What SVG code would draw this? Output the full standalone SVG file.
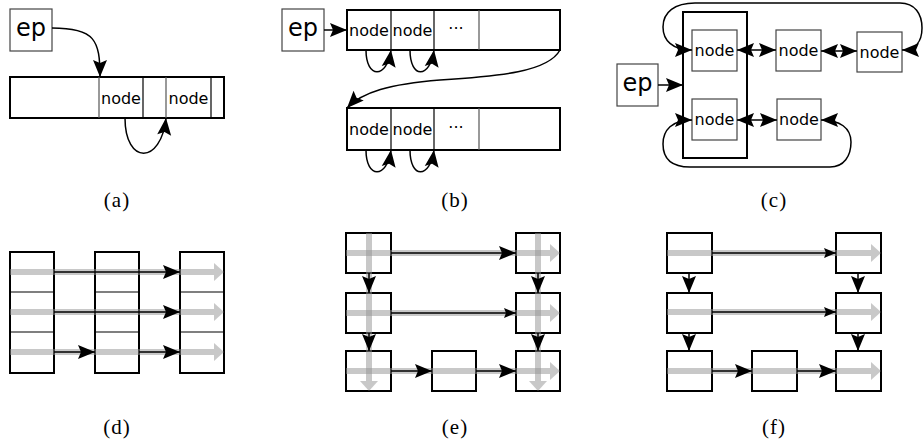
<svg xmlns="http://www.w3.org/2000/svg" width="923" height="442" viewBox="0 0 923 442">
<style>
.bg{fill:#fff}
.arr{fill:#fff;stroke:#000;stroke-width:2}
.nd{fill:#fff;stroke:#444;stroke-width:1.2}
.box{fill:#fff;stroke:#000;stroke-width:2}
.div{stroke:#000;stroke-width:1.2}
.divg{stroke:#555;stroke-width:1.2}
.ln{fill:none;stroke:#000;stroke-width:1.5}
.big{marker-end:url(#ah)}
.sm{marker-end:url(#as)}
.gr{fill:none;stroke:#919191;stroke-opacity:0.5;stroke-width:6;marker-end:url(#ag)}
.t{font-family:"DejaVu Sans",sans-serif;font-size:16px;text-anchor:middle;fill:#000}
.ep{font-family:"DejaVu Sans",sans-serif;font-size:24px;text-anchor:middle;fill:#000}
.cap{font-family:"Liberation Serif",serif;font-size:21px;letter-spacing:1px;text-anchor:middle;fill:#000}
</style>
<defs>
<marker id="ah" markerUnits="userSpaceOnUse" markerWidth="18" markerHeight="14" refX="17" refY="7" orient="auto-start-reverse" overflow="visible">
<path d="M0,0 L17,7 L0,14 L3,7 z" fill="#000"/>
</marker>
<marker id="as" markerUnits="userSpaceOnUse" markerWidth="12" markerHeight="10" refX="12" refY="5" orient="auto" overflow="visible">
<path d="M0,0 L12,5 L0,10 L2,5 z" fill="#000"/>
</marker>
<marker id="ag" markerUnits="userSpaceOnUse" markerWidth="11" markerHeight="18" refX="0" refY="9" orient="auto" overflow="visible">
<path d="M0,0 L10,9 L0,18 z" fill="#919191" fill-opacity="0.5"/>
</marker>
</defs>
<rect class="bg" x="0" y="0" width="923" height="442"/>

<!-- (a) -->
<g id="a-ep"><rect class="nd" x="10" y="9" width="42" height="42"/><text class="ep" x="31" y="36">ep</text></g>
<g id="a-array">
<rect class="arr" x="10" y="77" width="214" height="41"/>
<line class="divg" x1="99" y1="77" x2="99" y2="118"/>
<line class="div" x1="143" y1="77" x2="143" y2="118"/>
<line class="divg" x1="166" y1="77" x2="166" y2="118"/>
<line class="div" x1="211" y1="77" x2="211" y2="118"/>
<text class="t" x="121" y="104">node</text>
<text class="t" x="188.5" y="104">node</text>
</g>

<!-- (b) -->
<g id="b-ep"><rect class="nd" x="282" y="9" width="42" height="42"/><text class="ep" x="303" y="36">ep</text></g>
<g id="b-array1">
<rect class="arr" x="347" y="10" width="213" height="40"/>
<line class="div" x1="391" y1="10" x2="391" y2="50"/>
<line class="div" x1="434" y1="10" x2="434" y2="50"/>
<line class="divg" x1="479" y1="10" x2="479" y2="50"/>
<text class="t" x="369" y="36">node</text>
<text class="t" x="412.5" y="36">node</text>
<text class="t" x="456" y="34">···</text>
</g>
<g id="b-array2">
<rect class="arr" x="347" y="108" width="213" height="42"/>
<line class="div" x1="391" y1="108" x2="391" y2="150"/>
<line class="div" x1="434" y1="108" x2="434" y2="150"/>
<line class="divg" x1="479" y1="108" x2="479" y2="150"/>
<text class="t" x="369" y="135">node</text>
<text class="t" x="412.5" y="135">node</text>
<text class="t" x="456" y="133">···</text>
</g>

<!-- (c) -->
<g id="c-group"><rect fill="none" stroke="#000" stroke-width="2" x="683" y="12" width="64" height="146"/></g>
<g id="c-ep"><rect class="nd" x="617" y="64" width="41" height="42"/><text class="ep" x="637.5" y="91">ep</text></g>
<g id="c-n1"><rect class="nd" x="692" y="30" width="45" height="41"/><text class="t" x="714.5" y="56">node</text></g>
<g id="c-n2"><rect class="nd" x="776" y="30" width="45" height="41"/><text class="t" x="798.5" y="56">node</text></g>
<g id="c-n3"><rect class="nd" x="857" y="32" width="45" height="40"/><text class="t" x="879.5" y="58">node</text></g>
<g id="c-n4"><rect class="nd" x="692" y="99" width="45" height="41"/><text class="t" x="714.5" y="125">node</text></g>
<g id="c-n5"><rect class="nd" x="777" y="99" width="44" height="41"/><text class="t" x="799" y="125">node</text></g>

<!-- (d) -->
<g id="d-col1"><rect class="box" x="10" y="252" width="44" height="121"/><line class="div" x1="10" y1="292" x2="54" y2="292"/><line class="div" x1="10" y1="332" x2="54" y2="332"/></g>
<g id="d-col2"><rect class="box" x="95" y="252" width="44" height="121"/><line class="div" x1="95" y1="292" x2="139" y2="292"/><line class="div" x1="95" y1="332" x2="139" y2="332"/></g>
<g id="d-col3"><rect class="box" x="180" y="252" width="44" height="121"/><line class="div" x1="180" y1="292" x2="224" y2="292"/><line class="div" x1="180" y1="332" x2="224" y2="332"/></g>

<!-- (e) -->
<g id="e-n1"><rect class="box" x="346" y="233" width="45" height="40"/></g>
<g id="e-n2"><rect class="box" x="516" y="233" width="44" height="40"/></g>
<g id="e-n3"><rect class="box" x="346" y="293" width="45" height="40"/></g>
<g id="e-n4"><rect class="box" x="516" y="293" width="44" height="40"/></g>
<g id="e-n5"><rect class="box" x="346" y="351" width="45" height="40"/></g>
<g id="e-n6"><rect class="box" x="432" y="351" width="44" height="40"/></g>
<g id="e-n7"><rect class="box" x="516" y="351" width="44" height="40"/></g>

<!-- (f) -->
<g id="f-n1"><rect class="box" x="667" y="233" width="45" height="40"/></g>
<g id="f-n2"><rect class="box" x="836" y="233" width="45" height="40"/></g>
<g id="f-n3"><rect class="box" x="667" y="293" width="45" height="40"/></g>
<g id="f-n4"><rect class="box" x="836" y="293" width="45" height="40"/></g>
<g id="f-n5"><rect class="box" x="667" y="351" width="45" height="40"/></g>
<g id="f-n6"><rect class="box" x="752" y="351" width="45" height="40"/></g>
<g id="f-n7"><rect class="box" x="836" y="351" width="45" height="40"/></g>

<g id="connectors">
<!-- (a) -->
<path class="ln big" d="M52,28 C95,28 100,40 100,77"/>
<path class="ln big" d="M125,118 C125,165 161,165 166,118"/>
<!-- (b) -->
<path class="ln big" d="M324,30 L347,30"/>
<path class="ln big" d="M366,50 C366,79 387,79 391,50"/>
<path class="ln big" d="M410,50 C410,79 430,79 434,50"/>
<path class="ln big" d="M366,150 C366,179 387,179 391,150"/>
<path class="ln big" d="M410,150 C410,179 430,179 434,150"/>
<path class="ln big" d="M560,50 C548,72 500,76 440,80 C390,84 362,92 347,108"/>
<!-- (c) -->
<path class="ln big" d="M658,85 L683,85"/>
<path class="ln big" style="marker-start:url(#ah)" d="M737,50 L776,50"/>
<path class="ln big" style="marker-start:url(#ah)" d="M821,51 L857,51"/>
<path class="ln big" style="marker-start:url(#ah)" d="M737,120 L777,120"/>
<path class="ln big" style="marker-start:url(#ah)" d="M692,50 C672,50 663,40 663,27 C663,12 675,3 695,3 L900,3 C915,3 922,14 922,28 C922,42 915,50 902,50"/>
<path class="ln big" style="marker-start:url(#ah)" d="M692,120 C672,120 663,130 663,144 C663,159 672,167 690,167 L830,167 C844,167 851,156 851,142 C851,128 840,120 821,120"/>
<!-- (d) gray -->
<path class="gr" d="M10,272 L214,272"/>
<path class="gr" d="M10,312 L214,312"/>
<path class="gr" d="M10,352 L214,352"/>
<path class="ln big" d="M54,272 L180,272"/>
<path class="ln big" d="M54,312 L180,312"/>
<path class="ln big" d="M54,352 L95,352"/>
<path class="ln big" d="M139,352 L180,352"/>
<!-- (e) gray -->
<path class="gr" d="M346,253 L550,253"/>
<path class="gr" d="M346,313 L550,313"/>
<path class="gr" d="M346,371 L550,371"/>
<path class="gr" d="M369,233 L369,381"/>
<path class="gr" d="M538,233 L538,381"/>
<path class="ln big" d="M391,253 L516,253"/>
<path class="ln sm" d="M391,313 L516,313"/>
<path class="ln big" d="M391,371 L432,371"/>
<path class="ln big" d="M476,371 L516,371"/>
<path class="ln big" d="M369,273 L369,293"/>
<path class="ln big" d="M369,333 L369,351"/>
<path class="ln big" d="M538,273 L538,293"/>
<path class="ln big" d="M538,333 L538,351"/>
<!-- (f) gray -->
<path class="gr" d="M667,253 L871,253"/>
<path class="gr" d="M667,312 L871,312"/>
<path class="gr" d="M667,371 L871,371"/>
<path class="ln sm" d="M712,253 L836,253"/>
<path class="ln sm" d="M712,312 L836,312"/>
<path class="ln big" d="M712,371 L752,371"/>
<path class="ln big" d="M797,371 L836,371"/>
<path class="ln big" d="M689,273 L689,293"/>
<path class="ln big" d="M689,333 L689,351"/>
<path class="ln big" d="M858,273 L858,293"/>
<path class="ln big" d="M858,333 L858,351"/>
</g>

<g id="captions">
<text class="cap" x="117" y="207">(a)</text>
<text class="cap" x="455" y="207">(b)</text>
<text class="cap" x="774" y="207">(c)</text>
<text class="cap" x="117" y="434">(d)</text>
<text class="cap" x="455" y="434">(e)</text>
<text class="cap" x="774" y="434">(f)</text>
</g>
</svg>
